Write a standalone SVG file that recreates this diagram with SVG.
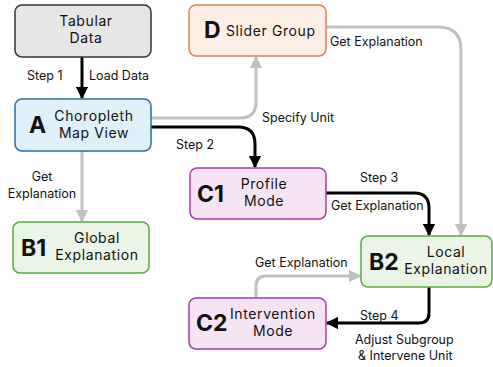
<svg xmlns="http://www.w3.org/2000/svg" width="493" height="367" viewBox="0 0 493 367">
<defs>
<marker id="ab" viewBox="0 0 10 10" refX="9" refY="5" markerWidth="4.2" markerHeight="4.2" orient="auto" markerUnits="strokeWidth"><path d="M0,0 L10,5 L0,10 z" fill="#000"/></marker>
<marker id="ag" viewBox="0 0 10 10" refX="9" refY="5" markerWidth="4.2" markerHeight="4.2" orient="auto" markerUnits="strokeWidth"><path d="M0,0 L10,5 L0,10 z" fill="#c0c0c0"/></marker>
<style>
.t{font-family:Inter,"Noto Sans",sans-serif;font-size:14px;letter-spacing:0.6px;fill:#111;text-anchor:middle}
.ts{font-family:Inter,"Noto Sans",sans-serif;font-size:14px;letter-spacing:0.6px;fill:#111}
.big{font-family:Inter,"Noto Sans",sans-serif;font-size:23px;font-weight:bold;fill:#111}
.l{font-family:Inter,"Noto Sans",sans-serif;font-size:12.5px;fill:#111}
.lc{font-family:Inter,"Noto Sans",sans-serif;font-size:12.5px;fill:#111;text-anchor:middle}
.k{fill:none;stroke:#000;stroke-width:3}
.g{fill:none;stroke:#c0c0c0;stroke-width:3}
</style>
</defs>
<g id="connectors">
<path class="k" d="M82,57 V98" marker-end="url(#ab)"/>
<path class="g" d="M82,151 V221" marker-end="url(#ag)"/>
<path class="g" d="M151,118 H240 Q256,118 256,102 V57" marker-end="url(#ag)"/>
<path class="k" d="M151,127 H238 Q255,127 255,144 V167" marker-end="url(#ab)"/>
<path class="g" d="M326,27 H438 Q461,27 461,50 V235" marker-end="url(#ag)"/>
<path class="k" d="M326,193 H414 Q429,193 429,208 V235" marker-end="url(#ab)"/>
<path class="g" d="M256,298 V286 Q256,276 266,276 H360" marker-end="url(#ag)"/>
<path class="k" d="M429,287 V313 Q429,323 419,323 H327" marker-end="url(#ab)"/>
<text class="l" x="27" y="80">Step 1</text>
<text class="l" x="89" y="80">Load Data</text>
<text class="l" x="262" y="122">Specify Unit</text>
<text class="l" x="176" y="149">Step 2</text>
<text class="l" x="330" y="46">Get Explanation</text>
<text class="lc" x="42" y="181">Get</text>
<text class="lc" x="42" y="198">Explanation</text>
<text class="l" x="360" y="182">Step 3</text>
<text class="l" x="331" y="210">Get Explanation</text>
<text class="l" x="255" y="267">Get Explanation</text>
<text class="l" x="360" y="320">Step 4</text>
<text class="l" x="355" y="344">Adjust Subgroup</text>
<text class="l" x="358" y="360">&amp; Intervene Unit</text>
</g>
<g id="tabular">
<rect x="15" y="5" width="136" height="52" rx="7" fill="#e6e6e6" stroke="#333" stroke-width="1.5"/>
<text class="t" x="86" y="26">Tabular</text>
<text class="t" x="86" y="43">Data</text>
</g>
<g id="A">
<rect x="15" y="99" width="136" height="52" rx="7" fill="#dff0f9" stroke="#2e6ca4" stroke-width="1.5"/>
<text class="big" x="29" y="133">A</text>
<text class="t" x="94" y="121">Choropleth</text>
<text class="t" x="94" y="138">Map View</text>
</g>
<g id="D">
<rect x="189" y="5" width="137" height="51" rx="7" fill="#fdeee5" stroke="#e0804e" stroke-width="1.5"/>
<text class="big" x="204" y="38">D</text>
<text class="ts" x="226" y="36">Slider Group</text>
</g>
<g id="B1">
<rect x="13" y="222" width="136" height="51" rx="7" fill="#eaf5e6" stroke="#5aaa40" stroke-width="1.5"/>
<text class="big" x="21" y="256">B1</text>
<text class="t" x="97" y="243">Global</text>
<text class="t" x="97" y="260">Explanation</text>
</g>
<g id="C1">
<rect x="190" y="168" width="136" height="51" rx="7" fill="#f6e4f5" stroke="#a23ea0" stroke-width="1.5"/>
<text class="big" x="197" y="202">C1</text>
<text class="t" x="264" y="189">Profile</text>
<text class="t" x="264" y="206">Mode</text>
</g>
<g id="B2">
<rect x="361" y="236" width="131" height="51" rx="7" fill="#eaf5e6" stroke="#5aaa40" stroke-width="1.5"/>
<text class="big" x="369" y="270">B2</text>
<text class="t" x="446" y="257">Local</text>
<text class="t" x="446" y="274">Explanation</text>
</g>
<g id="C2">
<rect x="189" y="298" width="137" height="51" rx="7" fill="#f6e4f5" stroke="#a23ea0" stroke-width="1.5"/>
<text class="big" x="196" y="331">C2</text>
<text class="t" x="273" y="319">Intervention</text>
<text class="t" x="273" y="336">Mode</text>
</g>
</svg>
